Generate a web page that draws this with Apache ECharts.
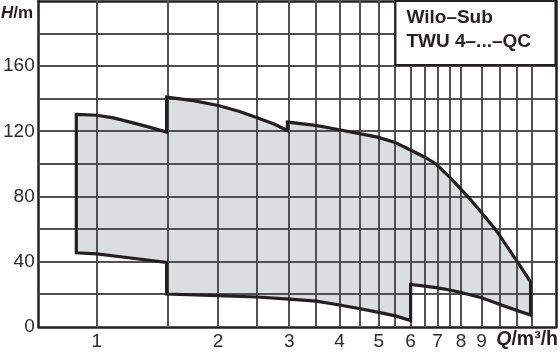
<!DOCTYPE html>
<html>
<head>
<meta charset="utf-8">
<script src="https://cdn.jsdelivr.net/npm/echarts@6/dist/echarts.min.js"></script>
<style>
html,body{margin:0;padding:0;background:#fff;}
#c{width:560px;height:355px;}
</style>
</head>
<body>
<div id="c"></div>
<script>
// ---- axis ranges / ticks ----
const xMinQ = 0.718, xMaxQ = 13.76;
const yMin = 0, yMax = 200, yStep = 20;
const gridQ = [1, 1.5, 2, 2.5, 3, 3.5, 4, 4.5, 5, 5.5, 6, 6.5, 7, 7.5, 8, 9, 10, 11, 12];
const gridH = [20, 40, 60, 80, 100, 120, 140, 160, 180];
const labelQ = [1, 2, 3, 4, 5, 6, 7, 8, 9];
const yLabelStep = 40;

// ---- operating field outline (Q in m³/h, H in m) ----
const top1Q = [0.89, 1.0, 1.1, 1.21, 1.35, 1.49];
const top1H = [130.4, 129.9, 128.3, 125.7, 122.6, 119.6];
const bot1Q = [0.89, 1.0, 1.2, 1.49];
const bot1H = [45.5, 44.9, 42.5, 39.6];

const top2Q = [1.49, 1.75, 2.0, 2.25, 2.5, 2.75, 2.97];
const top2H = [141.0, 138.7, 135.9, 132.4, 128.4, 124.5, 120.6];
const bot2Q = [1.49, 2.0, 2.5, 3.0, 3.5, 4.0, 4.5, 5.0, 5.5, 6.0];
const bot2H = [20.2, 19.2, 18.4, 17.1, 15.9, 13.5, 11.2, 9.0, 6.8, 3.9];

const top3Q = [2.97, 3.49, 3.99, 4.48, 4.97, 5.47, 6.0, 6.49, 6.94, 7.56, 8.32, 8.97, 9.77, 11.04, 11.9];
const top3H = [125.7, 123.7, 121.0, 118.6, 116.5, 113.4, 108.6, 104.3, 100.0, 91.0, 80.0, 70.6, 59.4, 40.0, 27.7];
const bot3Q = [6.0, 6.5, 7.0, 7.5, 8.0, 9.0, 10.0, 11.0, 11.9];
const bot3H = [26.1, 25.1, 24.0, 22.7, 21.2, 17.9, 13.8, 10.2, 7.3];

const titleText = 'Wilo–Sub\nTWU 4–...–QC';
const yName = '{i|H}/m';
const xName = '{i|Q}/m³/h';

// ---- build ----
const lg = v => Math.log10(v);
function pts(q, h) { return q.map((v, i) => [lg(v), h[i]]); }
const outline = [].concat(
  pts(top1Q, top1H),
  pts(top2Q, top2H),
  pts(top3Q, top3H),
  pts(bot3Q, bot3H).reverse(),
  pts(bot2Q, bot2H).reverse(),
  pts(bot1Q, bot1H).reverse()
);
const xLo = lg(xMinQ), xHi = lg(xMaxQ);

const ink = '#231f20';
const gridCol = '#505050';
const fillCol = '#dcdddf';
const font = 'Liberation Sans';
const italicRich = (size) => ({i: {fontFamily: font, fontWeight: 'bold', fontStyle: 'italic', fontSize: size, color: ink}});
const gridStyle = {stroke: gridCol, lineWidth: 2};

function polygonSeries(style, z) {
  return {
    type: 'custom', silent: true,
    coordinateSystem: 'cartesian2d', xAxisIndex: 0, yAxisIndex: 0,
    data: outline,
    encode: {x: 0, y: 1},
    z: z,
    renderItem: function (params, api) {
      if (params.dataIndex !== 0) return null;
      const p = outline.map(d => api.coord(d));
      return {type: 'polygon', shape: {points: p}, style: style};
    }
  };
}

const chart = echarts.init(document.getElementById('c'), null, {renderer: 'canvas'});
chart.setOption({
  animation: false,
  title: [{
    text: titleText,
    right: 4, top: 1,
    backgroundColor: '#fff',
    borderColor: ink, borderWidth: 2,
    padding: [5, 25, 11, 11],
    textStyle: {fontFamily: font, fontWeight: 'bold', fontSize: 19, color: ink, lineHeight: 24}
  }, {
    text: yName,
    left: 1, top: 5, padding: 0,
    textStyle: {fontFamily: font, fontWeight: 'bold', fontSize: 17, color: ink, rich: italicRich(17)}
  }, {
    text: xName,
    right: 2, top: 330, padding: 0,
    textStyle: {fontFamily: font, fontWeight: 'bold', fontSize: 19.5, color: ink, rich: italicRich(19.5)}
  }],
  grid: {left: 38, right: 4, top: 1, bottom: 28},
  xAxis: [{
    type: 'value',
    min: xLo, max: xHi,
    axisLine: {show: true, onZero: false, lineStyle: {color: ink, width: 2.5}},
    axisTick: {show: false},
    axisLabel: {
      customValues: labelQ.map(lg),
      formatter: v => String(Math.round(Math.pow(10, v))),
      color: '#2b2b2b', fontSize: 19, fontFamily: font, margin: 5
    },
    splitLine: {show: false}
  }, {
    type: 'value', position: 'top',
    min: xLo, max: xHi,
    axisLine: {show: true, onZero: false, lineStyle: {color: ink, width: 2.5}},
    axisTick: {show: false}, axisLabel: {show: false}, splitLine: {show: false}
  }],
  yAxis: [{
    type: 'value',
    min: yMin, max: yMax, interval: yStep,
    axisLine: {show: true, onZero: false, lineStyle: {color: ink, width: 2.5}},
    axisTick: {show: false},
    axisLabel: {
      formatter: v => (v % yLabelStep === 0 && v < yMax) ? String(v) : '',
      color: '#2b2b2b', fontSize: 19, fontFamily: font, margin: 4
    },
    splitLine: {show: false}
  }, {
    type: 'value', position: 'right',
    min: yMin, max: yMax, interval: yStep,
    axisLine: {show: true, onZero: false, lineStyle: {color: ink, width: 2.5}},
    axisTick: {show: false}, axisLabel: {show: false}, splitLine: {show: false}
  }],
  series: [
    // operating field fill (below the grid, as in the reference)
    polygonSeries({fill: fillCol, stroke: null, lineWidth: 0}, 1),
    {
      // vertical grid lines (log-spaced), snapped to whole pixels
      type: 'custom', silent: true,
      coordinateSystem: 'cartesian2d', xAxisIndex: 0, yAxisIndex: 0,
      data: gridQ.map(q => [lg(q), yMin]),
      encode: {x: 0, y: 1},
      z: 2,
      renderItem: function (params, api) {
        const v = api.value(0);
        const a = api.coord([v, yMin]), b = api.coord([v, yMax]);
        const x = Math.round(a[0]);
        return {type: 'line', shape: {x1: x, y1: a[1], x2: x, y2: b[1]}, style: gridStyle};
      }
    }, {
      // horizontal grid lines, snapped to whole pixels
      type: 'custom', silent: true,
      coordinateSystem: 'cartesian2d', xAxisIndex: 0, yAxisIndex: 0,
      data: gridH.map(h => [xLo, h]),
      encode: {x: 0, y: 1},
      z: 2,
      renderItem: function (params, api) {
        const v = api.value(1);
        const a = api.coord([xLo, v]), b = api.coord([xHi, v]);
        const y = Math.round(a[1]);
        return {type: 'line', shape: {x1: a[0], y1: y, x2: b[0], y2: y}, style: gridStyle};
      }
    },
    // operating field outline (above the grid)
    polygonSeries({fill: null, stroke: ink, lineWidth: 3.2, lineJoin: 'miter'}, 3)
  ]
});
</script>
</body>
</html>
